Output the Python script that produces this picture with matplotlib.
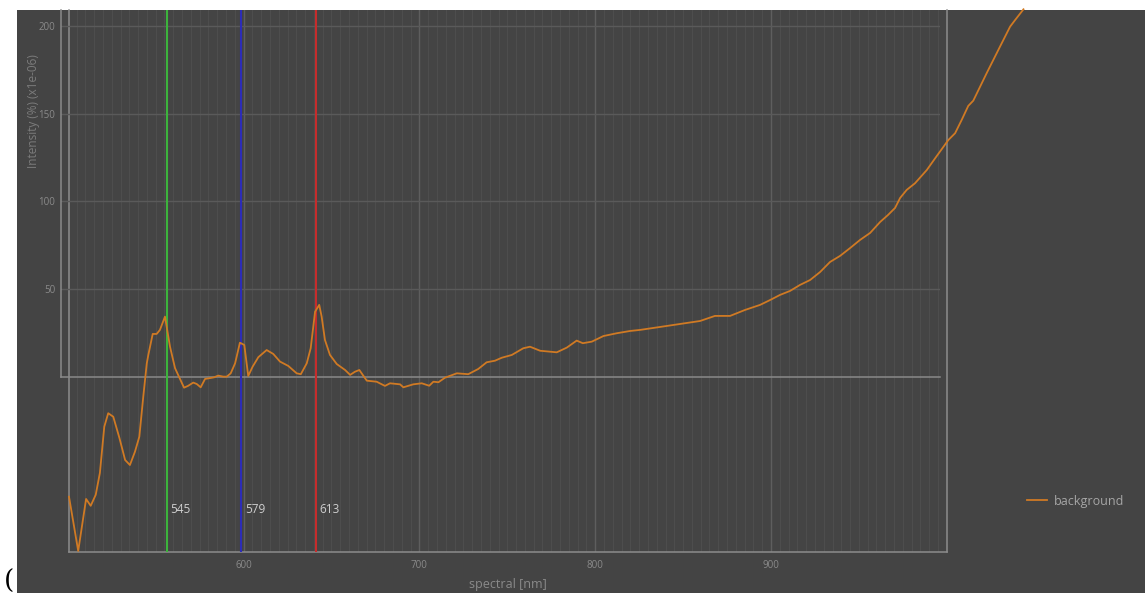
import matplotlib
matplotlib.use("Agg")
import matplotlib.pyplot as plt
from matplotlib.patches import Rectangle
from matplotlib.ticker import MultipleLocator

# Background spectrum (wavelength in nm, intensity in % x1e-06)
wavelength = [500.3, 504.5, 508.1, 510.2, 512.5, 514.4, 516.4, 518.2, 520.5, 523.3,
              525.9, 528.1, 530.4, 532.4, 534.2, 535.8, 536.5, 538.5, 540.3, 541.8,
              544.1, 546.4, 548.7, 552.8, 554.6, 557.0, 558.6, 560.4, 562.4, 564.3,
              566.5, 568.4, 570.7, 572.3, 574.1, 576.1, 578.3, 580.3, 582.1, 584.1,
              586.7, 590.5, 593.5, 596.6, 600.4, 604.2, 606.1, 608.8, 610.6, 612.6,
              614.5, 615.6, 617.1, 619.4, 622.5, 626.3, 628.6, 630.8, 632.8, 636.2,
              640.7, 644.5, 646.8, 651.4, 652.9, 657.4, 661.3, 664.7, 666.6, 668.9,
              671.9, 677.3, 682.5, 687.1, 690.9, 694.7, 697.8, 702.4, 707.6, 710.7,
              715.3, 722.9, 727.5, 732.0, 734.8, 738.9, 744.2, 750.3, 756.4, 760.9,
              770.1, 779.2, 788.3, 795.1, 802.0, 808.8, 815.7, 820.3, 824.8, 829.4,
              833.9, 838.5, 843.1, 847.6, 852.2, 856.8, 861.3, 865.9, 870.5, 874.1,
              877.3, 879.6, 882.6, 886.4, 891.8, 895.6, 901.6, 904.7, 907.7, 910.7,
              913.0, 919.1, 925.2, 929.8, 932.1, 935.9]
intensity = [-68.7, -99.7, -70.0, -73.9, -67.6, -55.1, -28.7, -21.0, -23.0, -35.1,
             -47.7, -50.6, -43.0, -34.4, -11.5, 7.5, 12.3, 24.3, 24.3, 26.6,
             34.2, 17.0, 4.7, -6.4, -5.4, -3.5, -4.3, -6.2, -1.4, -1.0,
             -0.5, 0.5, -0.1, -0.1, 1.8, 7.5, 19.3, 18.0, 0.3, 5.6,
             11.0, 15.1, 12.9, 8.5, 6.0, 1.8, 1.3, 7.5, 16.1, 37.0,
             40.9, 34.2, 20.9, 12.3, 7.1, 3.7, 0.9, 2.7, 3.7, -2.4,
             -3.0, -5.4, -3.9, -4.5, -6.2, -4.5, -3.9, -5.3, -3.0, -3.3,
             -0.7, 1.8, 1.3, 4.3, 8.1, 9.0, 10.7, 12.3, 16.1, 17.0,
             14.7, 13.8, 16.5, 20.5, 19.0, 19.9, 23.1, 24.7, 26.0, 26.6,
             28.3, 30.0, 31.7, 34.6, 34.6, 38.0, 40.9, 43.7, 46.6, 48.9,
             52.3, 55.1, 59.7, 65.4, 68.9, 73.4, 78.0, 82.0, 88.3, 92.3,
             96.3, 102.0, 106.6, 110.4, 118.0, 124.7, 135.1, 139.0, 146.6, 154.6,
             157.6, 173.3, 188.5, 199.9, 203.7, 209.8]

marker_nm = [545, 579, 613]
marker_colors = ["#3cb43c", "#2c2cb8", "#c62c2c"]
x_ticks = [600, 700, 800, 900]
y_ticks = [50, 100, 150, 200]
series_name = "background"

W, H = 1145, 593
BG = "#444444"
FONT = ["Open Sans", "DejaVu Sans"]
plt.rcParams["font.family"] = FONT


def fx(px):
    return px / W


def fy(py):
    return 1 - py / H


fig = plt.figure(figsize=(W / 100, H / 100), dpi=100, facecolor="white")
fig.patches.append(Rectangle((fx(17), 0), 1 - fx(17), fy(10), transform=fig.transFigure,
                             facecolor=BG, edgecolor="none", zorder=-5))

# Outer frame with the wavelength axis
rect = [fx(69), fy(552), fx(947) - fx(69), fy(10) - fy(552)]
ax_out = fig.add_axes(rect, zorder=0)
ax_out.set_facecolor(BG)
ax_out.set_xlim(500.7, 1000.1)
ax_out.set_ylim(0, 1)
ax_out.set_yticks([])
ax_out.set_xticks(x_ticks)
ax_out.xaxis.set_minor_locator(MultipleLocator(5))
ax_out.grid(True, which="major", axis="x", color="#5e5e5e", lw=1.0)
ax_out.grid(True, which="minor", axis="x", color="#4d4d4d", lw=0.8)
ax_out.tick_params(axis="x", which="both", length=0, labelsize=7, labelcolor="#8a8a8a", pad=6)
for side in ("left", "right", "bottom"):
    ax_out.spines[side].set_color("#8c8c8c")
    ax_out.spines[side].set_linewidth(1.1)
ax_out.spines["top"].set_visible(False)
ax_out.set_xlabel("spectral [nm]", fontsize=9, color="#8a8a8a", labelpad=5)

# Inner frame carrying the intensity scale
ax_in = fig.add_axes([fx(61), fy(376.5), fx(940) - fx(61), fy(10) - fy(376.5)], zorder=1)
ax_in.set_facecolor("none")
ax_in.set_xlim(0, 1)
ax_in.set_ylim(0, 209.4)
ax_in.set_xticks([])
ax_in.set_yticks(y_ticks)
ax_in.grid(True, axis="y", color="#5a5a5a", lw=1.0)
ax_in.tick_params(axis="y", length=0, labelsize=7, labelcolor="#8a8a8a", pad=4)
for side in ("left", "bottom"):
    ax_in.spines[side].set_color("#8a8a8a")
    ax_in.spines[side].set_linewidth(1.1)
for side in ("top", "right"):
    ax_in.spines[side].set_visible(False)
fig.text(fx(34), fy(111), "Intensity (%) (x1e-06)", rotation=90, ha="center", va="center",
         fontsize=8.5, color="#7c7c7c")

# Spectrum with the marked emission lines
ax_c = fig.add_axes(rect, zorder=2)
ax_c.set_facecolor("none")
ax_c.set_axis_off()
ax_c.set_xlim(500.3, 901.0)
ax_c.set_ylim(-100.3, 209.4)
for nm, col in zip(marker_nm, marker_colors):
    ax_c.axvline(nm, color=col, lw=1.5, zorder=2)
    ax_c.annotate(str(nm), xy=(nm, -76), xytext=(2.5, 0), textcoords="offset points",
                  ha="left", va="center", fontsize=8.5, color="#cfcfcf")
line, = ax_c.plot(wavelength, intensity, color="#d07a24", lw=1.3, clip_on=False, zorder=3,
                  label=series_name)

ax_c.legend(handles=[line], loc="center left", bbox_to_anchor=(fx(1027), fy(501)),
            bbox_transform=fig.transFigure, frameon=False, borderpad=0, borderaxespad=0,
            handlelength=1.6, handletextpad=0.55, fontsize=9, labelcolor="#a6a6a6")

fig.text(fx(4), fy(589), "(", fontsize=19, family="DejaVu Serif", color="black",
         ha="left", va="baseline")

fig.savefig("out.png", dpi=100, facecolor="white")
